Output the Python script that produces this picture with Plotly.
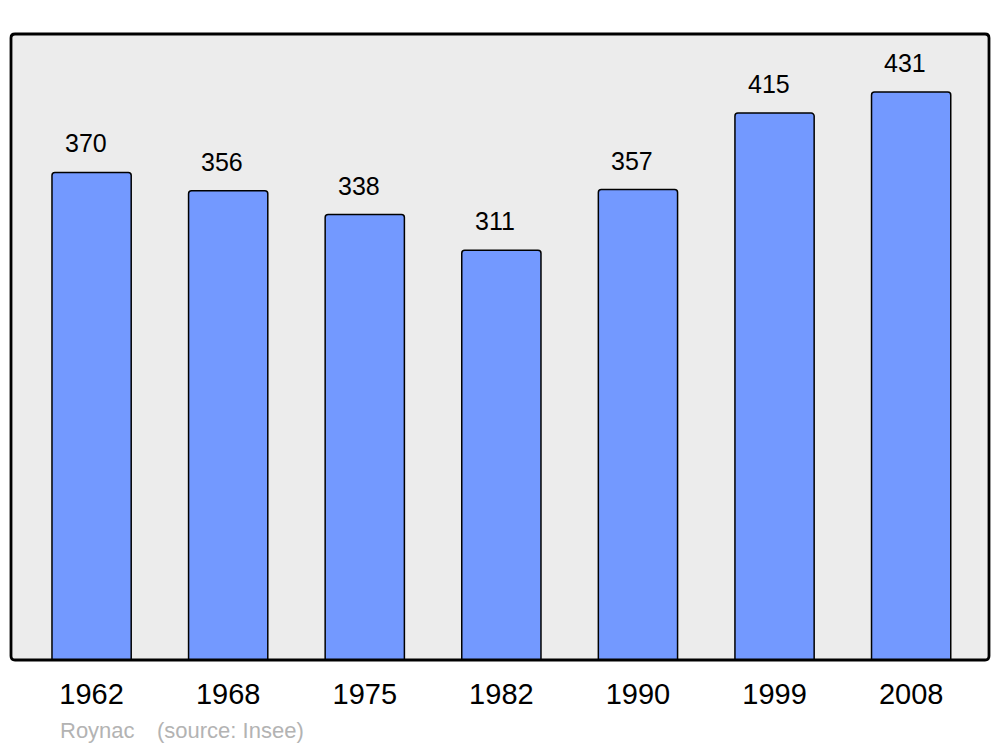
import plotly.graph_objects as go

years = ["1962", "1968", "1975", "1982", "1990", "1999", "2008"]
population = [370, 356, 338, 311, 357, 415, 431]
footer_place = "Roynac"
footer_source = "(source: Insee)"

FONT = "Liberation Sans, Arial, sans-serif"

fig = go.Figure()
fig.add_trace(go.Bar(
    x=list(range(len(years))),
    y=population,
    width=0.58,
    marker=dict(color="#7399ff", line=dict(color="#000000", width=1.5), cornerradius=3),
    hoverinfo="skip",
))

for i, v in enumerate(population):
    fig.add_annotation(x=i, y=v, text=str(v), showarrow=False, yanchor="bottom",
                       yshift=13, xshift=-6, font=dict(family=FONT, size=25, color="#000000"))

fig.add_annotation(xref="paper", yref="paper", x=47/978, y=-70/626, xanchor="left", yanchor="middle",
                   text=footer_place, showarrow=False, font=dict(family=FONT, size=22, color="#b3b3b3"))
fig.add_annotation(xref="paper", yref="paper", x=144/978, y=-70/626, xanchor="left", yanchor="middle",
                   text=footer_source, showarrow=False, font=dict(family=FONT, size=22, color="#b3b3b3"))

# rounded plot frame
rx, ry = 4 / 978, 4 / 626
path = (f"M {rx},0 L {1-rx},0 Q 1,0 1,{ry} L 1,{1-ry} Q 1,1 {1-rx},1 "
        f"L {rx},1 Q 0,1 0,{1-ry} L 0,{ry} Q 0,0 {rx},0 Z")
fig.add_shape(type="path", xref="paper", yref="paper", path=path,
              fillcolor="#ececec", line=dict(width=0), layer="below")
fig.add_shape(type="path", xref="paper", yref="paper", path=path,
              fillcolor="rgba(0,0,0,0)", line=dict(color="#000000", width=2.8), layer="above")

fig.update_layout(
    width=1000, height=747,
    margin=dict(l=11, r=11, t=34, b=87, pad=0),
    paper_bgcolor="#ffffff",
    plot_bgcolor="#ffffff",
    showlegend=False,
    xaxis=dict(range=[-0.59, 6.57], tickmode="array", tickvals=list(range(len(years))),
               ticktext=years, showgrid=False, zeroline=False, showline=False,
               tickfont=dict(family=FONT, size=29, color="#000000"),
               ticks="outside", ticklen=8, tickcolor="rgba(0,0,0,0)", fixedrange=True),
    yaxis=dict(range=[0, 475], showgrid=False, zeroline=False, showline=False,
               showticklabels=False, ticks="", fixedrange=True),
)

fig.write_html("out.html", config={"displayModeBar": False},
               post_script="document.body.style.margin='0';document.body.style.overflow='hidden';")
